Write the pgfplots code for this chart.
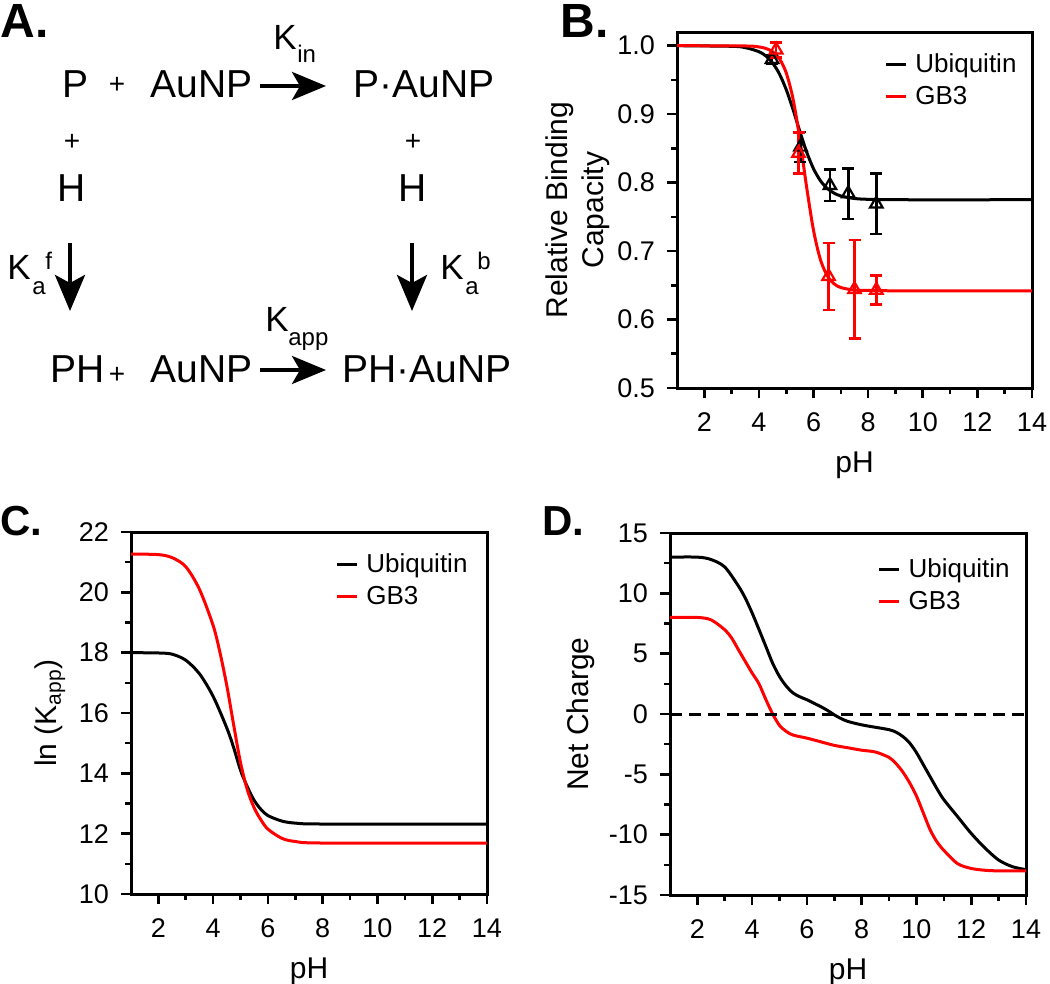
\documentclass[border=0pt]{standalone}
\usepackage{fontspec}
\setmainfont{Liberation Sans}
\usepackage{pgfplots}
\pgfplotsset{compat=1.18}
\usetikzlibrary{arrows.meta}
\pgfplotsset{/pgf/number format/assume math mode=true}
\pgfplotsset{
  myax/.style={
    scale only axis, width=178pt, height=181pt,
    xmin=1, xmax=14, xtick={2,4,...,14}, minor x tick num=1,
    tick align=outside, tick pos=left,
    axis line style={line width=1.5pt},
    major tick length=5pt, minor tick length=3pt,
    every tick/.append style={black, line width=1.3pt},
    ticklabel style={font=\fontsize{13.5}{15}\selectfont},
    xticklabel style={yshift=-4pt},
    yticklabel style={xshift=-2.5pt},
    label style={font=\fontsize{15}{18}\selectfont},
    xlabel={pH}, xlabel style={yshift=-3pt},
    legend cell align=left,
    legend style={draw=none, fill=none, font=\fontsize{13}{15}\selectfont, row sep=1.5pt, column sep=2pt, anchor=north west},
    legend image code/.code={\draw[#1, line width=1.5pt] (0pt,0pt) -- (10pt,0pt);},
  }
}
\begin{document}
\begin{tikzpicture}
\useasboundingbox (0,0) rectangle (525pt,-492pt);
% ---------- Panel A ----------
\begin{scope}[x=0.5pt, y=-0.5pt]
\node[anchor=base west, inner sep=0, font=\bfseries\fontsize{24}{26}\selectfont] at (0,38) {A.};
\node[anchor=base west, inner sep=0, font=\bfseries\fontsize{24}{26}\selectfont] at (560,38) {B.};
\node[anchor=base west, inner sep=0, font=\bfseries\fontsize{21}{24}\selectfont] at (0,535) {C.};
\node[anchor=base west, inner sep=0, font=\bfseries\fontsize{21}{24}\selectfont] at (542,535) {D.};
\begin{scope}[every node/.style={inner sep=0, font=\fontsize{19.5}{22}\selectfont}]
\node[anchor=base west] at (62,98) {P};
\node[anchor=base west] at (150,98) {AuNP};
\node[anchor=base west] at (353,98) {P·AuNP};
\node[anchor=base] at (72,202) {H};
\node[anchor=base] at (413,202) {H};
\node[anchor=base west] at (50,382) {PH};
\node[anchor=base west] at (150,382) {AuNP};
\node[anchor=base west] at (342,382) {PH·AuNP};
\end{scope}
\begin{scope}[every node/.style={inner sep=0, font=\fontsize{14}{16}\selectfont}]
\node at (117,85) {+};
\node at (72,142) {+};
\node at (413,142) {+};
\node at (117,375) {+};
\end{scope}
\begin{scope}[every node/.style={inner sep=0, anchor=base west, font=\fontsize{17.5}{20}\selectfont}]
\node at (273,50) {K};
\node at (7,280) {K};
\node at (440,280) {K};
\node at (265,332) {K};
\end{scope}
\begin{scope}[every node/.style={inner sep=0, anchor=base west, font=\fontsize{12}{14}\selectfont}]
\node at (297,63) {in};
\node at (32,295) {a};
\node at (45,270) {f};
\node at (465,295) {a};
\node at (477,270) {b};
\node at (288,345) {app};
\end{scope}
\draw[line width=2pt, -{Stealth[length=17pt, width=14pt, inset=4pt]}] (260,86) -- (326,86);
\draw[line width=2pt, -{Stealth[length=17pt, width=14pt, inset=4pt]}] (260,370) -- (326,370);
\draw[line width=2pt, -{Stealth[length=18pt, width=15pt, inset=4pt]}] (70,243) -- (70,311);
\draw[line width=2pt, -{Stealth[length=18pt, width=15pt, inset=4pt]}] (412,243) -- (412,311);
\end{scope}
% ---------- Panel B ----------
\begin{axis}[myax, at={(338.5pt,-194pt)}, anchor=south west, width=177.5pt, height=178pt,
  ymin=0.5, ymax=1.02, ytick={0.5,0.6,...,1.0}, minor y tick num=1,
  yticklabel style={/pgf/number format/.cd, fixed, fixed zerofill, precision=1},
  ylabel={Relative Binding\\Capacity}, ylabel style={align=center, yshift=-3pt},
  legend style={at={(0.566,0.963)}},
  error bars/error bar style={line width=1.3pt},
  error bars/error mark options={rotate=90, mark size=3pt, line width=1.3pt}]
\addplot[black, line width=1.5pt, smooth, tension=0.5] coordinates {
(1,1.0) (3.0,0.9991) (3.5,0.9972) (4.0,0.9913) (4.25,0.9851) (4.5,0.9748) (4.75,0.9588)
(5.0,0.9359) (5.25,0.9067) (5.5,0.8746) (5.75,0.8445) (6.0,0.8202) (6.25,0.8029)
(6.5,0.7916) (6.75,0.7847) (7.0,0.7805) (7.5,0.7768) (8.0,0.7756) (9,0.775) (14,0.775)};
\addlegendentry{Ubiquitin}
\addplot[red, line width=1.5pt, smooth, tension=0.5] coordinates {
(1,1.0) (3.5,0.9996) (4.0,0.9982) (4.25,0.9960) (4.5,0.9912) (4.75,0.9810) (5.0,0.9603)
(5.25,0.9221) (5.5,0.8631) (5.75,0.7926) (6.0,0.7301) (6.25,0.6878) (6.5,0.6641)
(6.75,0.6523) (7.0,0.6467) (7.5,0.6430) (8.0,0.6426) (9,0.642) (14,0.642)};
\addlegendentry{GB3}
\addplot[black, only marks, mark=triangle, mark size=3.6pt, mark options={line width=1.1pt}, forget plot,
  error bars/.cd, y dir=both, y explicit] coordinates {
(4.48,0.980) +- (0,0.006) (5.52,0.852) +- (0,0.022) (6.6,0.796) +- (0,0.023)
(7.27,0.784) +- (0,0.037) (8.3,0.769) +- (0,0.044)};
\addplot[red, only marks, mark=triangle, mark size=3.6pt, mark options={line width=1.1pt}, forget plot,
  error bars/.cd, y dir=both, y explicit] coordinates {
(4.63,0.994) +- (0,0.011) (5.45,0.843) +- (0,0.030) (6.55,0.663) +- (0,0.049)
(7.5,0.644) +- (0,0.072) (8.3,0.643) +- (0,0.021)};
\end{axis}
% ---------- Panel C ----------
\begin{axis}[myax, at={(65.5pt,-447pt)}, anchor=south west,
  ymin=10, ymax=22, ytick={10,12,...,22}, minor y tick num=1,
  ylabel={ln (K\textsubscript{app})},
  legend style={at={(0.556,0.964)}}]
\addplot[black, line width=1.5pt, smooth, tension=0.5] coordinates {
(1,18.0) (2,17.99) (2.5,17.95) (3.0,17.75) (3.5,17.3) (4.0,16.55) (4.5,15.5) (4.75,14.85)
(5.0,14.1) (5.25,13.55) (5.5,13.1) (5.75,12.8) (6.0,12.6) (6.5,12.42) (7.0,12.35) (8.0,12.32) (14,12.32)};
\addlegendentry{Ubiquitin}
\addplot[red, line width=1.5pt, smooth, tension=0.5] coordinates {
(1,21.27) (2,21.25) (2.5,21.15) (3.0,20.85) (3.5,20.1) (4.0,18.9) (4.25,18.0) (4.5,16.9)
(4.75,15.6) (5.0,14.35) (5.25,13.45) (5.5,12.85) (5.75,12.45) (6.0,12.15) (6.5,11.85)
(7.0,11.74) (8.0,11.69) (14,11.69)};
\addlegendentry{GB3}
\end{axis}
% ---------- Panel D ----------
\begin{axis}[myax, at={(335pt,-447.5pt)}, anchor=south west,
  ymin=-15, ymax=15, ytick={-15,-10,...,15}, minor y tick num=1,
  ylabel={Net Charge},
  legend style={at={(0.565,0.953)}}]
\addplot[black, line width=1.5pt, smooth, tension=0.5] coordinates {
(1,13.0) (2,13.0) (2.5,12.8) (3.0,12.18) (3.5,10.6) (3.75,9.6) (4.0,8.37) (4.25,7.0) (4.5,5.6)
(4.75,4.2) (5.0,3.1) (5.25,2.3) (5.5,1.73) (5.75,1.42) (6.0,1.18) (6.25,0.9) (6.5,0.62)
(6.75,0.3) (7.0,-0.07) (7.25,-0.38) (7.5,-0.62) (8.0,-0.9) (8.5,-1.1) (9.0,-1.3) (9.25,-1.5)
(9.5,-1.86) (9.75,-2.4) (10.0,-3.2) (10.25,-4.2) (10.5,-5.2) (10.75,-6.2) (11.0,-7.1)
(11.5,-8.5) (12.0,-9.9) (12.5,-11.1) (13.0,-12.1) (13.5,-12.65) (14,-12.9)};
\addlegendentry{Ubiquitin}
\addplot[red, line width=1.5pt, smooth, tension=0.5] coordinates {
(1,8.0) (2,8.0) (2.5,7.8) (3.0,6.98) (3.25,6.3) (3.5,5.32) (3.75,4.35) (4.0,3.39) (4.25,2.5)
(4.5,1.2) (4.75,0.0) (5.0,-0.95) (5.25,-1.45) (5.5,-1.75) (6.0,-2.0) (6.5,-2.3) (7.0,-2.6)
(7.5,-2.8) (8.0,-3.0) (8.5,-3.15) (9.0,-3.6) (9.25,-4.1) (9.5,-4.8) (9.75,-5.7) (10.0,-6.8)
(10.25,-8.2) (10.5,-9.6) (10.75,-10.6) (11.0,-11.3) (11.5,-12.4) (12.0,-12.8) (12.5,-12.95)
(13,-13.0) (14,-13.0)};
\addlegendentry{GB3}
\addplot[black, line width=1.5pt, dash pattern=on 6pt off 3.5pt, forget plot] coordinates {(1,0) (14,0)};
\end{axis}
\end{tikzpicture}
\end{document}
